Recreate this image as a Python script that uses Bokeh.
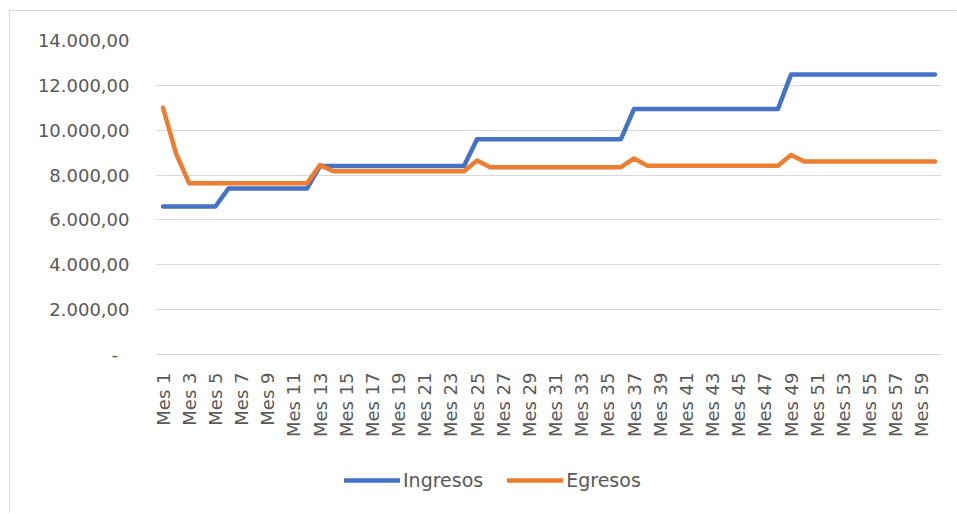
from bokeh.plotting import figure
from bokeh.models import Range1d, FixedTicker, Legend, LegendItem, ColumnDataSource
from bokeh.embed import file_html
from bokeh.resources import INLINE
import math

# ---- data ----
months = list(range(1, 61))
month_labels = ["Mes %d" % m for m in months]

ingresos = [
    6600, 6600, 6600, 6600, 6600,
    7400, 7400, 7400, 7400, 7400, 7400, 7400,
    8400, 8400, 8400, 8400, 8400, 8400, 8400, 8400, 8400, 8400, 8400, 8400,
    9600, 9600, 9600, 9600, 9600, 9600, 9600, 9600, 9600, 9600, 9600, 9600,
    10950, 10950, 10950, 10950, 10950, 10950, 10950, 10950, 10950, 10950, 10950, 10950,
    12480, 12480, 12480, 12480, 12480, 12480, 12480, 12480, 12480, 12480, 12480, 12480,
]
egresos = [
    11000, 8950,
    7630, 7630, 7630, 7630, 7630, 7630, 7630, 7630, 7630, 7630,
    8450,
    8170, 8170, 8170, 8170, 8170, 8170, 8170, 8170, 8170, 8170, 8170,
    8650,
    8350, 8350, 8350, 8350, 8350, 8350, 8350, 8350, 8350, 8350, 8350,
    8740,
    8420, 8420, 8420, 8420, 8420, 8420, 8420, 8420, 8420, 8420, 8420,
    8900,
    8600, 8600, 8600, 8600, 8600, 8600, 8600, 8600, 8600, 8600, 8600,
]
series_names = ["Ingresos", "Egresos"]
y_ticks = [0, 2000, 4000, 6000, 8000, 10000, 12000, 14000]
y_tick_labels = ["-\u2007", "2.000,00", "4.000,00", "6.000,00", "8.000,00",
                 "10.000,00", "12.000,00", "14.000,00"]
x_ticks = months[0::2]

FONT = "DejaVu Sans"
TXT = "#595959"
GRID = "#D9D9D9"

# layout geometry (pixels): plot area 314 px tall, 160 px of space below it
Y_MAX = 14000
PLOT_H = 314
BELOW_H = 160
y_start = -Y_MAX * BELOW_H / PLOT_H

source = ColumnDataSource(dict(x=months, ing=ingresos, egr=egresos))

p = figure(width=947, height=503, output_backend="svg", toolbar_location=None,
           x_range=Range1d(0.5, 60.5), y_range=Range1d(y_start, Y_MAX),
           min_border_left=146, min_border_top=29, min_border_right=16,
           min_border_bottom=0)
p.styles = {"margin-left": "9px", "margin-top": "10px",
            "border-left": "1px solid #D9D9D9", "border-top": "1px solid #D9D9D9"}
p.outline_line_color = None
p.background_fill_color = "white"
p.border_fill_color = "white"

r1 = p.line("x", "ing", source=source, line_color="#4472C4", line_width=4.5,
            line_cap="round", line_join="round")
r2 = p.line("x", "egr", source=source, line_color="#ED7D31", line_width=4.5,
            line_cap="round", line_join="round")

# axes
xa = p.xaxis[0]
xa.fixed_location = 0
xa.ticker = FixedTicker(ticks=x_ticks)
xa.major_label_overrides = {m: month_labels[m - 1] for m in x_ticks}
xa.major_label_orientation = math.pi / 2
xa.major_label_text_font = FONT
xa.major_label_text_font_size = "18px"
xa.major_label_text_color = TXT
xa.major_label_standoff = 18
xa.major_tick_out = 0
xa.major_tick_in = 0
xa.major_tick_line_color = None
xa.minor_tick_line_color = None
xa.axis_line_color = GRID
xa.axis_line_width = 1

ya = p.yaxis[0]
ya.ticker = FixedTicker(ticks=y_ticks)
ya.major_label_overrides = dict(zip(y_ticks, y_tick_labels))
ya.major_label_text_font = FONT
ya.major_label_text_font_size = "18px"
ya.major_label_text_color = TXT
ya.major_label_standoff = 27
ya.major_tick_out = 0
ya.major_tick_in = 0
ya.major_tick_line_color = None
ya.minor_tick_line_color = None
ya.axis_line_color = None

p.xgrid.grid_line_color = None
p.ygrid.grid_line_color = GRID
p.ygrid.grid_line_width = 1

legend = Legend(items=[LegendItem(label=series_names[0], renderers=[r1]),
                       LegendItem(label=series_names[1], renderers=[r2])],
                orientation="horizontal", location=(188, 23),
                glyph_width=56, glyph_height=20, label_standoff=3, spacing=24,
                padding=0, margin=0, border_line_color=None,
                background_fill_alpha=0,
                label_text_font=FONT, label_text_font_size="19px",
                label_text_color=TXT)
p.add_layout(legend, "center")

open("out.html", "w").write(file_html(p, INLINE))
